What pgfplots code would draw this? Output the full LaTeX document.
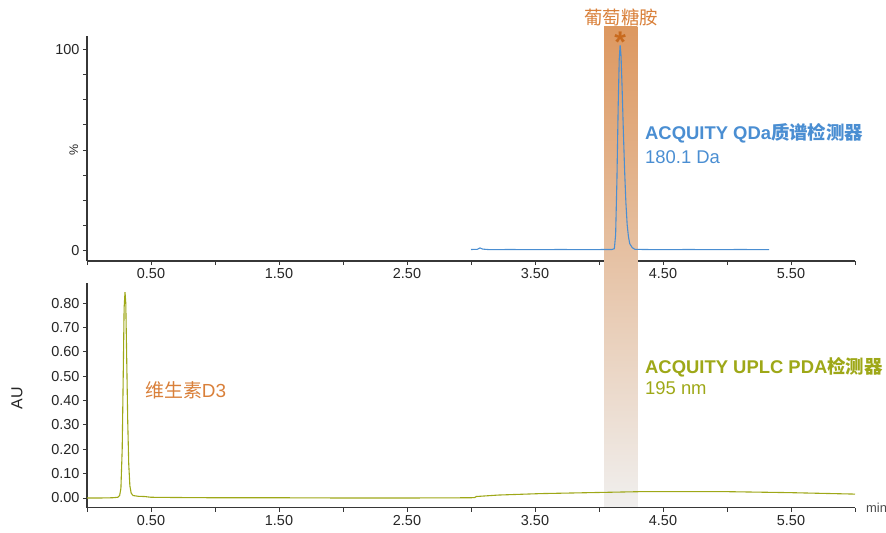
\documentclass[border=0pt]{standalone}
\usepackage{fontspec}
\setmainfont{Liberation Sans}
\newfontfamily\cjk{Noto Sans CJK SC}
\usepackage{pgfplots}
\pgfplotsset{compat=1.18}
\definecolor{orng}{RGB}{217,128,58}
\definecolor{dorng}{RGB}{200,106,30}
\definecolor{blu}{RGB}{74,142,210}
\definecolor{olv}{RGB}{158,168,24}
\definecolor{axc}{RGB}{55,55,55}
\definecolor{bandtop}{RGB}{221,152,96}
\definecolor{bandbot}{RGB}{240,239,238}
\pgfplotsset{
 base/.style={scale only axis, width=768bp, xmin=0, xmax=6,
  axis lines=left, axis line style={-, draw=axc, line width=1.1pt},
  tick style={draw=axc, line width=0.8pt}, tick align=outside,
  major tick length=4bp, clip=false,
  xtick={0,0.5,...,6},
  xticklabels={,0.50,,1.50,,2.50,,3.50,,4.50,,5.50,},
  tick label style={font=\fontsize{14.5}{16}\selectfont, text=black!85},
  /pgf/number format/assume math mode=true,
  anchor=south west}
}
\begin{document}
\begin{tikzpicture}
% top: mass detector
\begin{axis}[base, at={(87bp,272bp)}, height=225bp,
  ymin=-5.11, ymax=106.6,
  ytick={0,12.5,25,37.5,50,62.5,75,87.5,100},
  yticklabels={0,,,,,,,,100},
  ylabel={\%},
  ylabel style={at={(axis description cs:-0.017,0.493)}, anchor=center,
    font=\fontsize{12.5}{12.5}\selectfont, text=black!85}]
\shade[top color=bandtop, bottom color=bandbot] (axis cs:4.04,111.07) rectangle (axis cs:4.30,-127.3);
\addplot[blu, line width=1.1pt] table {
3.00 0.6
3.05 0.7
3.07 1.4
3.09 0.8
3.15 0.5
3.30 0.6
3.50 0.5
3.70 0.6
3.90 0.5
4.05 0.6
4.10 0.6
4.12 1.0
4.13 8
4.14 35
4.15 72
4.158 95
4.165 102
4.172 97
4.18 82
4.19 60
4.20 40
4.21 24
4.22 13
4.23 7
4.24 3.5
4.26 1.5
4.28 0.7
4.35 0.6
4.50 0.5
4.70 0.6
4.90 0.5
5.10 0.6
5.33 0.5
};
\node[text=orng, font=\cjk\fontsize{18.5}{19}\selectfont] at (axis cs:4.172,116.0) {葡萄糖胺};
\node[text=dorng, font=\bfseries\fontsize{30}{30}\selectfont] at (axis cs:4.165,103.5) {*};
\node[anchor=west, text=blu, inner sep=0pt, font=\bfseries\fontsize{18.5}{19}\selectfont] at (axis cs:4.359,58.4) {ACQUITY QDa{\cjk 质谱检测器}};
\node[anchor=west, text=blu, inner sep=0pt, font=\fontsize{18.5}{19}\selectfont] at (axis cs:4.359,46.5) {180.1 Da};
\end{axis}
% bottom: PDA detector
\begin{axis}[base, at={(87bp,25.3bp)}, height=224.4bp,
  ymin=-0.0398, ymax=0.881,
  ytick={0,0.1,0.2,0.3,0.4,0.5,0.6,0.7,0.8},
  yticklabel style={/pgf/number format/.cd, fixed, fixed zerofill, precision=2},
  ylabel={AU},
  ylabel style={at={(axis description cs:-0.0911,0.489)}, anchor=center,
    font=\fontsize{16}{16}\selectfont, text=black!85}]
\addplot[olv, line width=1.1pt] table {
0.00 0.000
0.10 0.000
0.20 0.001
0.24 0.003
0.255 0.01
0.265 0.04
0.275 0.20
0.283 0.50
0.290 0.78
0.297 0.845
0.303 0.80
0.310 0.58
0.318 0.32
0.326 0.14
0.335 0.05
0.345 0.02
0.36 0.01
0.40 0.007
0.45 0.006
0.50 0.003
0.70 0.002
1.00 0.001
1.50 0.001
2.00 0.000
2.50 0.000
3.00 0.001
3.03 0.002
3.04 0.006
3.21 0.012
3.54 0.018
3.93 0.022
4.32 0.026
5.00 0.026
5.49 0.022
6.00 0.016
};
\node[anchor=west, text=orng, inner sep=0pt, font=\fontsize{19}{20}\selectfont] at (axis cs:0.453,0.443) {{\cjk 维生素}D3};
\node[anchor=west, text=olv, inner sep=0pt, font=\bfseries\fontsize{18.5}{19}\selectfont] at (axis cs:4.359,0.537) {ACQUITY UPLC PDA{\cjk 检测器}};
\node[anchor=west, text=olv, inner sep=0pt, font=\fontsize{18.5}{19}\selectfont] at (axis cs:4.359,0.451) {195 nm};
\node[anchor=west, text=black!70, inner sep=0pt, font=\fontsize{13}{13}\selectfont] at (axis cs:6.086,-0.041) {min};
\end{axis}
\pgfresetboundingbox
\useasboundingbox (0,0) rectangle (886bp,533bp);
\end{tikzpicture}
\end{document}
